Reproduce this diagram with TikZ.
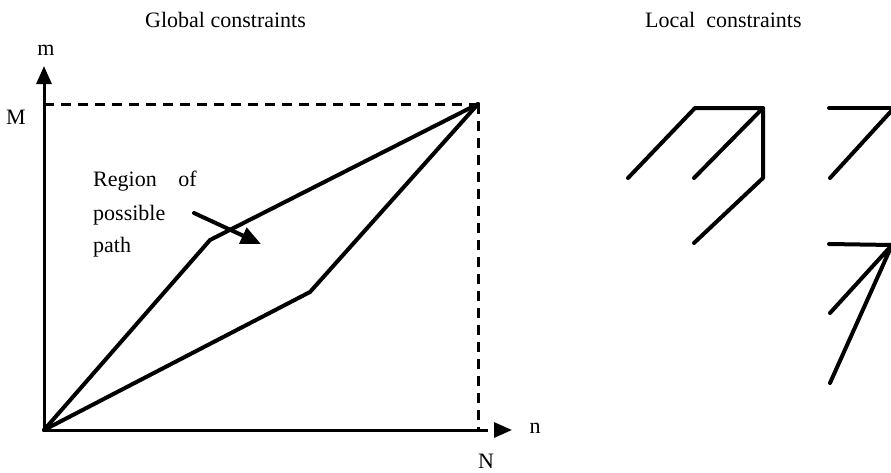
\documentclass[tikz,border=0pt]{standalone}
\usepackage{fontspec}
\setmainfont{Liberation Serif}
\usetikzlibrary{arrows.meta,calc}
\begin{document}
\begin{tikzpicture}[x=1pt,y=-1pt,
  lbl/.style={font=\fontsize{22}{24}\selectfont, inner sep=0pt},
  axis/.style={line width=3pt},
  pathline/.style={line width=4pt, line cap=round, line join=round},
  dashline/.style={line width=3pt, dash pattern=on 10pt off 7pt},
  bigtip/.style={-{Triangle[length=18pt,width=15pt]}},
  local/.style={line width=4pt, line cap=round, line join=round}]
\useasboundingbox (0,0) rectangle (891,472);
% titles
\node[lbl, anchor=base west] (tg) at (145,27) {Global constraints};
\node[lbl, anchor=base west] (tl) at (645,27) {Local\ \ constraints};
% axes
\coordinate (O) at (44,430);
\coordinate (mtip) at (44,66);
\coordinate (ntip) at (512,430);
\coordinate (Mleft) at (44,104);
\coordinate (TR) at (478,104);
\coordinate (Nb) at (478,430);
\coordinate (Nd) at (494,430);
\draw[axis, bigtip] (O) -- (mtip);
\draw[axis] (O) -- (Nb);
\draw[dashline] (Nb) -- (Nd);
\draw[axis, bigtip] (Nd) -- (ntip);
\draw[dashline] (Mleft) -- (TR);
\draw[dashline] (TR) -- (Nb);
\node[lbl] (mlab) at (46,50) {m};
\node[lbl] (Mlab) at (16,117) {M};
\node[lbl] (nlab) at (535,428) {n};
\node[lbl] (Nlab) at (486,461) {N};
% region
\coordinate (U) at (210,240);
\coordinate (L) at (310,292);
\draw[pathline] (O) -- (U) -- (TR);
\draw[pathline] (O) -- (L) -- (TR);
\node[lbl, anchor=base west] (r1) at (93,186) {Region};
\node[lbl, anchor=base east] (r2) at (197,186) {of};
\node[lbl, anchor=base west] (r3) at (93,220) {possible};
\node[lbl, anchor=base west] (r4) at (93,252) {path};
\coordinate (as) at (194,213);
\coordinate (ae) at (261,244);
\draw[line width=4pt, line cap=round, -{Triangle[length=20pt,width=17pt]}] (as) -- (ae);
% local constraints
\coordinate (a1) at (628,178);
\coordinate (a2) at (695,108);
\coordinate (a3) at (763,108);
\coordinate (a4) at (694,178);
\coordinate (a5) at (763,178);
\coordinate (a6) at (694,243);
\draw[local] (a1) -- (a2) -- (a3);
\draw[local] (a4) -- (a3) -- (a5) -- (a6);
\begin{scope}
\clip (0,0) rectangle (891,472);
\coordinate (b1) at (829,108);
\coordinate (b2) at (894,108);
\coordinate (b3) at (830,178);
\draw[local] (b1) -- (b2);
\draw[local] (b3) -- (b2);
\coordinate (c1) at (829,244);
\coordinate (c2) at (892,245);
\coordinate (c3) at (830,313);
\coordinate (c4) at (830,383);
\draw[local] (c1) -- (c2);
\draw[local] (c3) -- (c2) -- (c4);
\end{scope}
\end{tikzpicture}
\end{document}
